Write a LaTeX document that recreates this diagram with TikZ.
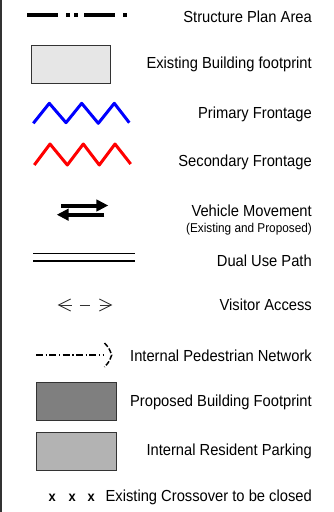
\documentclass[tikz,border=0pt]{standalone}
\usepackage{fontspec}
\setmainfont[FakeStretch=0.92]{Liberation Sans}
\usetikzlibrary{arrows.meta}
\definecolor{exgray}{HTML}{E6E6E6}
\definecolor{propgray}{HTML}{7F7F7F}
\definecolor{parkgray}{HTML}{B3B3B3}
\definecolor{edgegray}{HTML}{333333}
\begin{document}
\begin{tikzpicture}[x=1pt,y=-1pt,
  lbl/.style={anchor=base east, inner sep=0pt, font=\fontsize{16}{18}\selectfont},
  smalllbl/.style={anchor=base east, inner sep=0pt, font=\fontsize{12.8}{14}\selectfont},
  xmark/.style={anchor=base, inner sep=0pt, font=\bfseries\fontsize{14}{16}\selectfont},
  swatch/.style={draw=edgegray, line width=1pt},
  zigzag/.style={line width=3pt, line join=round},
  vehicle/.style={line width=4pt, -{Triangle[length=12pt,width=11.5pt]}},
  dualline/.style={line width=1.3pt},
  visitor/.style={line width=0.9pt, draw=black!80,
    dash pattern=on 13.3pt off 7.3pt on 10pt off 10pt on 20pt,
    {Straight Barb[length=12pt,width=12pt]}-{Straight Barb[length=12pt,width=12pt]}},
  pedline/.style={line width=1.5pt, dash pattern=on 7pt off 2.7pt on 1.4pt off 2.2pt},
  pedhead/.style={line width=1.5pt, dash pattern=on 5pt off 2pt},
  planline/.style={line width=4.5pt, dash pattern=on 30.5pt off 8.3pt on 4pt off 4.3pt on 4pt off 6pt}
]
\useasboundingbox (0,0) rectangle (333,512);
\fill[white] (0,0) rectangle (333,512);
\draw[line width=1.5pt, edgegray] (1,0) -- (1,512);

% Structure Plan Area
\coordinate (sp1) at (27.3,15);
\coordinate (sp2) at (127.2,15);
\draw[planline] (sp1) -- (sp2);
\node[lbl] (t1) at (312,22.5) {Structure Plan Area};

% Existing building footprint
\draw[swatch, fill=exgray] (31,45) rectangle (110.7,83.3);
\node[lbl] (t2) at (312,68.5) {Existing Building footprint};

% Primary frontage
\draw[zigzag, blue] (33.3,123.3) -- (49.3,103.3) -- (66,122.7) -- (81.7,103.3) -- (98.3,123.3) -- (114.3,103.3) -- (129.3,122.7);
\node[lbl] (t3) at (312,118.5) {Primary Frontage};

% Secondary frontage
\draw[zigzag, red] (34.3,165) -- (50,144) -- (67.3,165) -- (83.3,144) -- (99.3,165) -- (115,144) -- (130.7,164);
\node[lbl] (t4) at (312,166.7) {Secondary Frontage};

% Vehicle movement
\coordinate (v1a) at (61,205.5);
\coordinate (v1b) at (108.3,205.5);
\coordinate (v2a) at (104.3,214.7);
\coordinate (v2b) at (56.7,214.7);
\draw[vehicle] (v1a) -- (v1b);
\draw[vehicle] (v2a) -- (v2b);
\node[lbl] (t5) at (312,216) {Vehicle Movement};
\node[smalllbl] (t5b) at (312,232.5) {(Existing and Proposed)};

% Dual use path
\coordinate (d1a) at (33.3,253.5);
\coordinate (d1b) at (135,253.5);
\coordinate (d2a) at (33.3,261);
\coordinate (d2b) at (135,261);
\draw[dualline] (d1a) -- (d1b);
\draw[dualline] (d2a) -- (d2b);
\node[lbl] (t6) at (312,266) {Dual Use Path};

% Visitor access
\coordinate (va1) at (57.7,305);
\coordinate (va2) at (112.3,305);
\draw[visitor] (va1) -- (va2);
\node[lbl] (t7) at (312,310) {Visitor Access};

% Internal pedestrian network
\coordinate (p1) at (36,355);
\coordinate (p2) at (103,355);
\draw[pedline] (p1) -- (p2);
\draw[pedhead] (104.5,343) .. controls (109,348) .. (111.7,355) .. controls (109,362) .. (104.5,367);
\node[lbl] (t8) at (312,361.5) {Internal Pedestrian Network};

% Proposed building footprint
\draw[swatch, fill=propgray] (36,382.7) rectangle (116,420.7);
\node[lbl] (t9) at (312,406) {Proposed Building Footprint};

% Internal resident parking
\draw[swatch, fill=parkgray] (36,432.3) rectangle (116,470.7);
\node[lbl] (t10) at (312,455) {Internal Resident Parking};

% Existing crossover
\node[xmark] (x1) at (52.2,501.7) {x};
\node[xmark] (x2) at (72.2,501.7) {x};
\node[xmark] (x3) at (91.2,501.7) {x};
\node[lbl] (t11) at (312,501.7) {Existing Crossover to be closed};
\end{tikzpicture}
\end{document}
